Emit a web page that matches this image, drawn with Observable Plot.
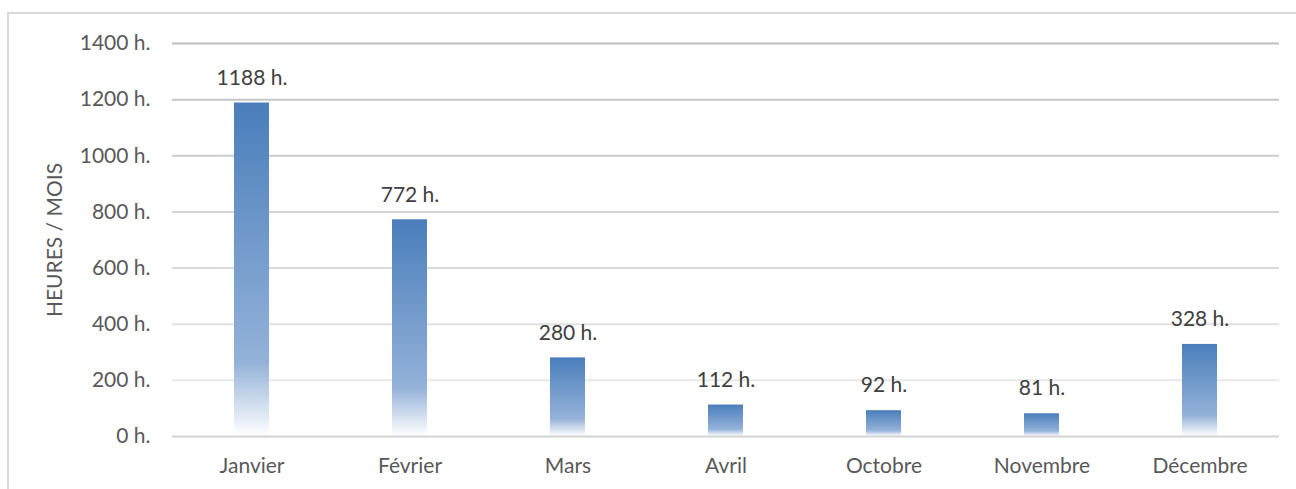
<!DOCTYPE html>
<html><head><meta charset="utf-8">
<script src="https://cdn.jsdelivr.net/npm/d3@7"></script>
<script src="https://cdn.jsdelivr.net/npm/@observablehq/plot@0.6"></script>
<style>
html,body{margin:0;padding:0;background:#fff;overflow:hidden;}
#wrap{position:relative;width:1296px;height:489px;}
#frame{position:absolute;left:7px;top:12px;width:1300px;height:490px;border:2px solid #d9d9d9;box-sizing:border-box;pointer-events:none;}
#chart{position:absolute;left:0;top:0;}
</style></head>
<body><div id="wrap"><div id="chart"></div><div id="frame"></div></div>
<script>
const months = ["Janvier","Février","Mars","Avril","Octobre","Novembre","Décembre"];
const hours = [1188, 772, 280, 112, 92, 81, 328];
const yTicks = [0, 200, 400, 600, 800, 1000, 1200, 1400];
const yTitle = "HEURES / MOIS";

const data = months.map((m, i) => ({month: m, hours: hours[i]}));
const gridColor = d3.interpolateRgb("#f0f0f0", "#bfbfbf");

const defs = () => {
  const d = d3.create("svg:defs");
  const g = d.append("linearGradient").attr("id", "barGrad")
    .attr("x1", 0).attr("y1", 0).attr("x2", 0).attr("y2", 1);
  g.append("stop").attr("offset", "0%").attr("stop-color", "#4a7ebb");
  g.append("stop").attr("offset", "78%").attr("stop-color", "#94b2d9");
  g.append("stop").attr("offset", "100%").attr("stop-color", "#ffffff");
  return d.node();
};

const chart = Plot.plot({
  width: 1296,
  height: 489,
  marginLeft: 172,
  marginRight: 17,
  marginTop: 43,
  marginBottom: 53,
  style: {fontFamily: "Lato, sans-serif", fontSize: "21px", color: "#595959", background: "transparent"},
  x: {domain: months, paddingInner: 0.78, paddingOuter: 0.39, label: null, tickSize: 0, tickPadding: 22},
  y: {domain: [0, 1400], ticks: yTicks, tickFormat: d => d + " h.", label: null, tickSize: 0, tickPadding: 22},
  marks: [
    defs,
    Plot.ruleY(yTicks.filter(t => t > 0), {stroke: d => gridColor(d / 1400), strokeWidth: 2}),
    Plot.barY(data, {x: "month", y: "hours", fill: "url(#barGrad)"}),
    Plot.ruleY([0], {stroke: "#d4d4d4", strokeWidth: 2}),
    Plot.text(data, {x: "month", y: "hours", text: d => d.hours + " h.", dy: -25, fill: "#404040", fontSize: 21}),
    Plot.text([yTitle], {frameAnchor: "left", textAnchor: "middle", dx: -117, rotate: -90, fill: "#595959", fontSize: 21})
  ]
});
document.getElementById("chart").appendChild(chart);
</script></body></html>
